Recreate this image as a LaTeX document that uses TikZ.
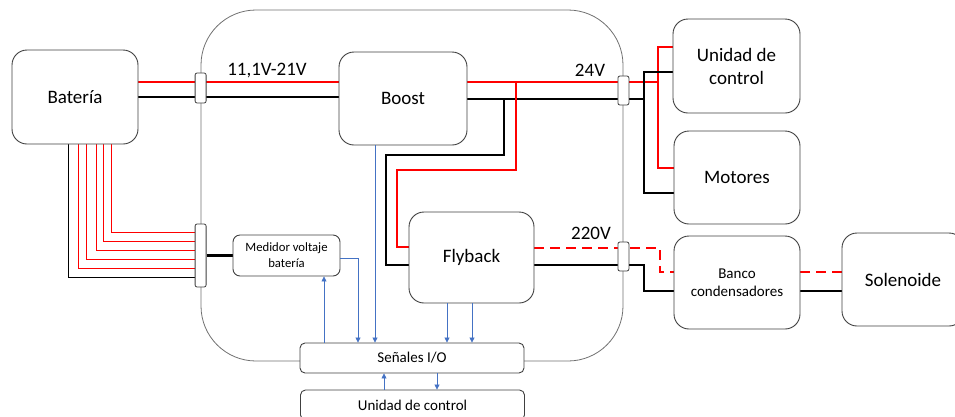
\documentclass[tikz,border=0pt]{standalone}
\usepackage{fontspec}
\setmainfont{Carlito}
\usepackage{tikz}
\usetikzlibrary{arrows.meta,backgrounds}
\definecolor{boxgray}{HTML}{404040}
\definecolor{casegray}{HTML}{707070}
\definecolor{sigblue}{HTML}{4472C4}

\begin{document}
\begin{tikzpicture}[x=1pt, y=-1pt,
    block/.style={draw=boxgray, rounded corners=15pt, fill=white, line width=0.9pt, align=center, inner sep=0pt, font=\fontsize{19}{23}\selectfont},
    smallblock/.style={draw=boxgray, rounded corners=7pt, fill=white, line width=0.9pt, align=center, inner sep=0pt, font=\fontsize{12.7}{16}\selectfont},
    ioblock/.style={draw=boxgray, rounded corners=5pt, fill=white, line width=0.9pt, inner sep=0pt, minimum width=224pt, minimum height=30pt, font=\fontsize{15}{18}\selectfont},
    conn/.style={draw=boxgray, rounded corners=2pt, fill=white, line width=0.8pt, inner sep=0pt, minimum width=11pt},
    encl/.style={draw=casegray, rounded corners=55pt, line width=0.8pt},
    volt/.style={font=\fontsize{19}{23}\selectfont, inner sep=0pt},
    wirepos/.style={red, line width=2.6pt},
    wireneg/.style={black, line width=2.6pt},
    wiredash/.style={red, line width=2.6pt, dash pattern=on 10pt off 6pt},
    cellwire/.style={red, line width=1pt},
    sig/.style={sigblue, line width=0.8pt, -{Triangle[length=5pt,width=5pt]}}
]
\path[use as bounding box, clip] (0,0) rectangle (955,416);

% blocks
\node[block, minimum width=126pt, minimum height=94pt] (bat) at (75,97) {Batería};
\node[block, minimum width=128pt, minimum height=93pt] (boost) at (403,98.5) {Boost};
\node[block, minimum width=125pt, minimum height=91pt] (flyback) at (471.5,257.5) {Flyback};
\node[block, minimum width=127pt, minimum height=94pt] (ucontrol) at (736.5,66) {Unidad de\\control};
\node[block, minimum width=126pt, minimum height=93pt] (motores) at (737,177.5) {Motores};
\node[block, minimum width=126pt, minimum height=93pt, font=\fontsize{15}{18}\selectfont] (banco) at (737,282.5) {Banco\\condensadores};
\node[block, minimum width=122pt, minimum height=93pt] (solenoide) at (903,279.5) {Solenoide};
\node[smallblock, minimum width=107pt, minimum height=41pt] (medidor) at (286.5,255.5) {Medidor voltaje\\batería};
\node[ioblock] (senales) at (412,358) {Señales I/O};
\node[ioblock] (ucbottom) at (412.5,405) {Unidad de control};

% voltage labels
\node[volt] (vin) at (267,71) {11,1V-21V};
\node[volt] (v24) at (590,70) {24V};
\node[volt] (v220) at (591,233) {220V};

\begin{scope}[on background layer]
\node[encl, minimum width=422pt, minimum height=351pt] (case) at (412,185.5) {};
\end{scope}

% connectors on the case
\node[conn, minimum height=30pt] (c1) at (case.west |- 0,88) {};
\node[conn, minimum height=63pt] (c2) at (case.west |- 0,255.5) {};
\node[conn, minimum height=29pt] (c3) at (case.east |- 0,90.5) {};
\node[conn, minimum height=29pt] (c4) at (case.east |- 0,256.5) {};

\begin{scope}[on background layer]
% battery to boost
\draw[wirepos] (bat.east |- 0,82) -- (boost.west |- 0,82);
\draw[wireneg] (bat.east |- 0,97) -- (boost.west |- 0,97);

% 24V rail
\draw[wirepos] (boost.east |- 0,82) -- (658,82);
\draw[wirepos] (ucontrol.west |- 0,47) -| (658,168) -- (motores.west |- 0,168);
\draw[wireneg] (boost.east |- 0,99) -- (644,99);
\draw[wireneg] (ucontrol.west |- 0,72) -| (644,193) -- (motores.west |- 0,193);

% boost to flyback
\draw[wirepos] (516,82) |- (397,170) |- (flyback.west |- 0,247);
\draw[wireneg] (504,99) |- (386,155) |- (flyback.west |- 0,265);

% 220V rail
\draw[wiredash] (flyback.east |- 0,248) -- (660,248) |- (banco.west |- 0,272);
\draw[wireneg] (flyback.east |- 0,265) -- (644,265) |- (banco.west |- 0,291);
\draw[wiredash] (banco.east |- 0,272) -- (solenoide.west |- 0,272);
\draw[wireneg] (banco.east |- 0,291) -- (solenoide.west |- 0,291);

% battery cells
\draw[black, line width=1pt] (bat.south -| 68,0) |- (c2.west |- 0,277);
\foreach \x/\y in {78/268, 86/259, 96/250, 103/241, 111/232}
    \draw[cellwire] (bat.south -| \x,0) |- (c2.west |- 0,\y);
\draw[wireneg] (c2.east |- medidor.west) -- (medidor.west);
\end{scope}

% signals
\draw[sig] (senales.north -| 324,0) -- (medidor.south -| 324,0);
\draw[sig] (medidor.east |- 0,258) -| (senales.north -| 358,0);
\draw[sig] (boost.south -| 375,0) -- (senales.north -| 375,0);
\draw[sig] (flyback.south -| 447,0) -- (senales.north -| 447,0);
\draw[sig] (flyback.south -| 472,0) -- (senales.north -| 472,0);
\draw[sig] (ucbottom.north -| 384,0) -- (senales.south -| 384,0);
\draw[sig] (senales.south -| 437,0) -- (ucbottom.north -| 437,0);
\end{tikzpicture}
\end{document}
